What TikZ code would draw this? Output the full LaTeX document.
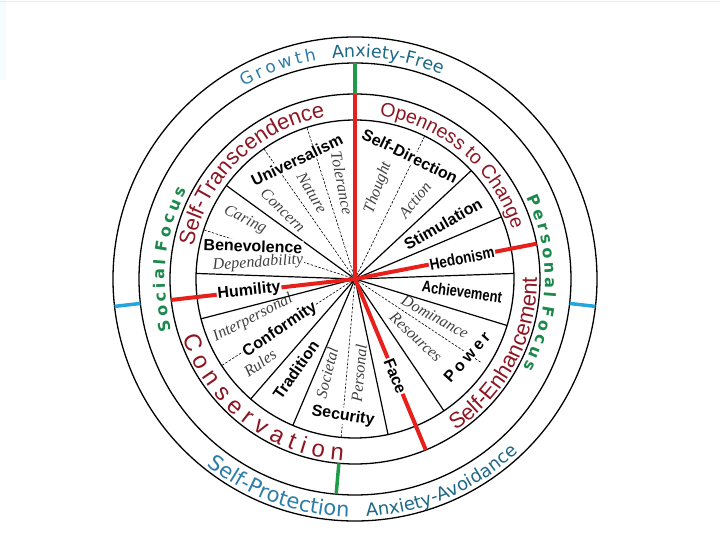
\documentclass[tikz,border=0pt]{standalone}
\usepackage{fontspec}
\setmainfont{Liberation Serif}
\setsansfont{Liberation Sans}
\newfontfamily\ringfamily[WordSpace=0.65]{DejaVu Sans}
\newfontfamily\focusfamily[WordSpace=0.6]{DejaVu Sans}
\usepackage{xcolor}
\usetikzlibrary{decorations.text}

\definecolor{highred}{RGB}{140,22,34}
\definecolor{borderred}{RGB}{232,32,28}
\definecolor{focusgreen}{RGB}{28,136,76}
\definecolor{tickgreen}{RGB}{30,156,72}
\definecolor{tickblue}{RGB}{38,164,220}
\definecolor{growthblue}{RGB}{44,124,170}
\definecolor{anxteal}{RGB}{28,104,134}

\newcommand{\valfnt}{\sffamily\bfseries\fontsize{16}{18}\selectfont}
\newcommand{\subfnt}{\rmfamily\itshape\fontsize{16}{18}\selectfont}
\newcommand{\higherfnt}[1]{\sffamily\fontsize{#1}{#1}\selectfont\color{highred}}
\newcommand{\ringfnt}[2]{\ringfamily\fontsize{#1}{#1}\selectfont\color{#2}}
\newcommand{\focusfnt}{\focusfamily\bfseries\fontsize{16}{16}\selectfont\color{focusgreen}}

\begin{document}
\begin{tikzpicture}[
  x=1pt, y=1pt,
  ring/.style={line width=1.3pt},
  spoke/.style={line width=1.2pt},
  subline/.style={line width=0.6pt, dash pattern=on 2.5pt off 1.5pt},
  border/.style={line width=4pt, color=borderred},
  greentick/.style={line width=3.5pt, color=tickgreen},
  bluetick/.style={line width=3.5pt, color=tickblue},
  value/.style={font=\valfnt, fill=white, inner sep=1pt},
  sub/.style={font=\subfnt, text=black!75, fill=white, inner sep=0.5pt},
  curved/.style={decorate, decoration={text along path, text align=center, text={#1}}},
]

% ================= 画布 =================
\useasboundingbox (-355,-261) rectangle (365,279);
\fill[cyan!4] (-355,279) rectangle (-349,199);
\draw[black!8, line width=0.8pt] (-355,277.5) -- (365,277.5);

\coordinate (hub) at (0,0);

% ================= 圆环 =================
\foreach \r in {159,185,216,242}
  \draw[ring] (hub) circle[radius=\r];

% ================= 子价值分隔线 =================
\foreach \a in {64,107.6,125,162,213,265}
  \draw[subline] (hub) -- (\a:159);
\draw[subline] (hub) -- (326.5:152);

% 子价值标签
\node[sub, rotate=4] (depend) at (170.6:98.3) {Dependability};
\node[sub, rotate=-26] (caring) at (151.8:124.8) {Caring};
\node[sub, rotate=-44] (concern) at (136.2:99.7) {Concern};
\node[sub, rotate=-59] (nature) at (116.6:96.2) {Nature};
\node[sub, rotate=-79] (toler) at (97.7:96.9) {Tolerance};
\node[sub, rotate=70] (thought) at (75.8:93.9) {Thought};
\node[sub, rotate=52] (action) at (52.8:99.2) {Action};
\node[sub, rotate=-29] (domin) at (-25.4:88.6) {Dominance};
\node[sub, rotate=-43] (resour) at (-43.6:84.2) {Resources};
\node[sub, rotate=85] (persl) at (-87.6:94.1) {Personal};
\node[sub, rotate=76] (societ) at (253.4:98.1) {Societal};
\node[sub, rotate=27] (interp) at (200.9:109.2) {Interpersonal};
\node[sub, rotate=35] (rules) at (221.5:126.8) {Rules};

% ================= 价值分隔线 =================
\foreach \a in {2,23,43,144,178,194.5,229,247,282,304,343}
  \draw[spoke] (hub) -- (\a:159);

% 高阶价值分隔（红）
\foreach \a in {90,11,186.5,292.5}
  \draw[border] (hub) -- (\a:185);

% 外环刻度
\draw[greentick] (90:185) -- (90:216);
\draw[greentick] (265:185) -- (265:216);
\draw[bluetick] (-6.5:216) -- (-6.5:242);
\draw[bluetick] (186.5:216) -- (186.5:242);

% ================= 价值标签 =================
\node[value, rotate=26] (univ) at (116:132.4) {Universalism};
\node[value, rotate=-26] (selfdir) at (65.9:134.7) {Self-Direction};
\node[value, rotate=30] (stim) at (32:103.8) {Stimulation};
\node[value, rotate=11, xscale=.85] (hedon) at (11:109) {Hedonism};
\node[value, rotate=-8, xscale=.81] (achiev) at (-6.9:107.8) {Achievement};
\node[value, rotate=48, font={\valfnt\addfontfeature{LetterSpace=20}}] (power) at (-34.9:136.5) {Power};
\node[value, rotate=-68] (face) at (292.5:105) {Face};
\node[value, rotate=-9] (secur) at (265:137.5) {Security};
\node[value, rotate=55] (tradit) at (237:108.5) {Tradition};
\node[value, rotate=34] (conform) at (214.2:90.7) {Conformity};
\node[value, rotate=6] (humil) at (186.5:106.6) {Humility};
\node[value, rotate=-2] (benev) at (162.1:107.2) {Benevolence};

% ================= 高阶价值（弧形文字） =================
\path[curved={|\higherfnt{22}|Self-Transcendence}] (184.5:165) arc[start angle=184.5, end angle=84.5, radius=165];
\path[curved={|\higherfnt{19.5}|Openness to Change}] (99.5:165) arc[start angle=99.5, end angle=-0.5, radius=165];
\path[curved={|\higherfnt{22}|Self-Enhancement}] (-78:182) arc[start angle=-78, end angle=22, radius=182];
\path[curved={|\higherfnt{24}|C o n s e r v a t i o n}] (182.5:182) arc[start angle=182.5, end angle=282.5, radius=182];

% ================= 外环文字 =================
\path[curved={|\focusfnt|S o c i a l}] (210:190) arc[start angle=210, end angle=160, radius=190];
\path[curved={|\focusfnt|F o c u s}] (187:190) arc[start angle=187, end angle=137, radius=190];
\path[curved={|\focusfnt|P e r s o n a l}] (35:190) arc[start angle=35, end angle=-15, radius=190];
\path[curved={|\focusfnt|F o c u s}] (7:190) arc[start angle=7, end angle=-43, radius=190];

\path[curved={|\ringfnt{17}{growthblue}|G r o w t h}] (140:222) arc[start angle=140, end angle=80, radius=222];
\path[curved={|\ringfnt{17.5}{anxteal}|Anxiety-Free}] (111.5:222) arc[start angle=111.5, end angle=51.5, radius=222];
\path[curved={|\ringfnt{21}{growthblue}|Self-Protection}] (220:238) arc[start angle=220, end angle=280, radius=238];
\path[curved={|\ringfnt{18}{anxteal}|Anxiety-Avoidance}] (263:238) arc[start angle=263, end angle=323, radius=238];

\end{tikzpicture}
\end{document}
